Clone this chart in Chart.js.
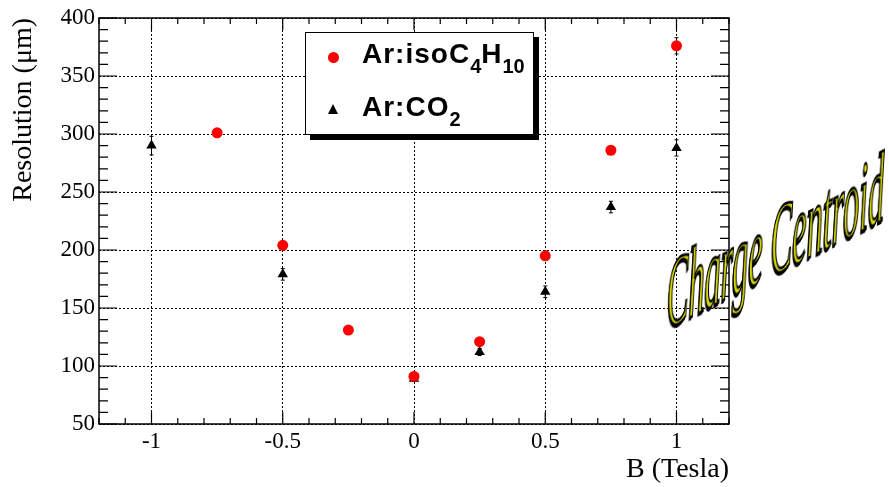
<!DOCTYPE html>
<html>
<head>
<meta charset="utf-8">
<script src="https://cdn.jsdelivr.net/npm/chart.js@4.4.1/dist/chart.umd.min.js"></script>
<style>
  html, body { margin: 0; padding: 0; background: #fff; }
  #wrap { position: relative; width: 889px; height: 487px; overflow: hidden; }
  #legend {
    position: absolute; left: 305px; top: 32px; width: 227px; height: 101px;
    border: 1px solid #000; background: #fff; box-shadow: 5px 5px 0 #000;
    font-family: "Liberation Sans", Arial, sans-serif; font-weight: bold; font-size: 28px;
  }
  #legend .row { position: absolute; left: 0; height: 34px; line-height: 34px; white-space: nowrap; }
  #legend .mark { position: absolute; left: 22px; }
  #legend .txt { position: absolute; left: 56px; letter-spacing: 1px; }
  #legend sub { font-size: 20px; vertical-align: -10px; line-height: 0; letter-spacing: 0; }
  .dot { width: 11px; height: 11px; border-radius: 50%; background: #f00; }
  .tri { width: 0; height: 0; border-left: 5px solid transparent; border-right: 5px solid transparent; border-bottom: 10px solid #000; }
  #stamp {
    position: absolute; left: 667px; top: 312px; white-space: nowrap;
    font-family: "Liberation Serif", "Times New Roman", serif; font-style: italic; font-size: 34px; line-height: 34px;
    color: #d8d800; -webkit-text-stroke: 1px #000; text-shadow: -1px 1px 0 #000;
    transform-origin: 0 100%; transform: skewY(-26.7deg) scale(0.95, 2.9);
  }
</style>
</head>
<body>
<div id="wrap">
  <canvas id="chart" width="889" height="487"></canvas>
  <div id="legend">
    <div class="row" style="top:4px"><div class="dot mark" style="top:15px"></div><span class="txt">Ar:isoC<sub>4</sub>H<sub>10</sub></span></div>
    <div class="row" style="top:57px"><div class="tri mark" style="top:14px"></div><span class="txt">Ar:CO<sub>2</sub></span></div>
  </div>
  <div id="stamp">Charge Centroid</div>
</div>
<script>
// --- dados ---
const isoField = [-0.75, -0.5, -0.25, 0, 0.25, 0.5, 0.75, 1];
const isoResolution = [301, 204, 131, 91, 121, 195, 286, 376];
const isoError = [3, 3, 2, 2, 2, 3, 3, 7];

const co2Field = [-1, -0.5, 0, 0.25, 0.5, 0.75, 1];
const co2Resolution = [290, 179, 89, 112, 164, 237, 288];
const co2Error = [8, 5, 2, 3, 5, 5, 7];

const xTicks = [-1, -0.5, 0, 0.5, 1];
const yTicks = [50, 100, 150, 200, 250, 300, 350, 400];

const serif = '"Liberation Serif", "Times New Roman", serif';

// pares {x, y} a partir das listas
function toPoints(xs, ys) {
    return xs.map((x, i) => ({ x: x, y: ys[i] }));
}

// barras de erro verticais (estilo ROOT)
const errorBars = {
    id: 'errorBars',
    beforeDatasetsDraw(chart) {
        const ctx = chart.ctx;
        const y = chart.scales.y;
        const sets = [isoError, co2Error];
        ctx.save();
        ctx.strokeStyle = '#000';
        ctx.lineWidth = 1;
        chart.data.datasets.forEach((ds, d) => {
            const meta = chart.getDatasetMeta(d);
            meta.data.forEach((pt, i) => {
                const v = ds.data[i].y;
                const top = y.getPixelForValue(v + sets[d][i]);
                const bot = y.getPixelForValue(v - sets[d][i]);
                ctx.beginPath();
                ctx.moveTo(pt.x, top); ctx.lineTo(pt.x, bot);
                ctx.moveTo(pt.x - 2, top); ctx.lineTo(pt.x + 2, top);
                ctx.moveTo(pt.x - 2, bot); ctx.lineTo(pt.x + 2, bot);
                ctx.stroke();
            });
        });
        ctx.restore();
    }
};

// moldura com marcas para dentro nos quatro lados
const frameTicks = {
    id: 'frameTicks',
    afterDraw(chart) {
        const ctx = chart.ctx;
        const a = chart.chartArea;
        const xs = chart.scales.x, ys = chart.scales.y;
        ctx.save();
        ctx.strokeStyle = '#000';
        ctx.lineWidth = 1.5;
        ctx.strokeRect(a.left, a.top, a.right - a.left, a.bottom - a.top);
        ctx.lineWidth = 1.2;
        ctx.beginPath();
        for (let k = -12; k <= 12; k++) {
            const px = xs.getPixelForValue(k / 10);
            const len = (k % 5 === 0) ? 12 : 6;
            ctx.moveTo(px, a.bottom); ctx.lineTo(px, a.bottom - len);
            ctx.moveTo(px, a.top); ctx.lineTo(px, a.top + len);
        }
        for (let v = 50; v <= 400; v += 10) {
            const py = ys.getPixelForValue(v);
            const len = (v % 50 === 0) ? 18 : 9;
            ctx.moveTo(a.left, py); ctx.lineTo(a.left + len, py);
            ctx.moveTo(a.right, py); ctx.lineTo(a.right - len, py);
        }
        ctx.stroke();
        ctx.restore();
    }
};

new Chart(document.getElementById('chart'), {
    type: 'scatter',
    data: {
        datasets: [
            {
                label: 'Ar:isoC4H10',
                data: toPoints(isoField, isoResolution),
                pointStyle: 'circle',
                pointRadius: 5.5,
                backgroundColor: '#ff0000',
                borderWidth: 0
            },
            {
                label: 'Ar:CO2',
                data: toPoints(co2Field, co2Resolution),
                pointStyle: 'triangle',
                pointRadius: 6,
                backgroundColor: '#000000',
                borderWidth: 0
            }
        ]
    },
    options: {
        responsive: false,
        animation: false,
        events: [],
        layout: { padding: { top: 18, right: 160, left: 0, bottom: 0 } },
        plugins: { legend: { display: false }, tooltip: { enabled: false } },
        scales: {
            x: {
                type: 'linear', min: -1.2, max: 1.2,
                afterBuildTicks: s => { s.ticks = xTicks.map(v => ({ value: v })); },
                afterFit: s => { s.height = 63; },
                border: { display: false, dash: [2, 2] },
                grid: { color: '#000', lineWidth: 1, drawTicks: false },
                ticks: { padding: 4, color: '#000', font: { family: serif, size: 23 }, callback: v => String(v) },
                title: { display: true, text: 'B (Tesla)', align: 'end', color: '#000',
                         font: { family: serif, size: 28 }, padding: { top: 0, bottom: 1 } }
            },
            y: {
                type: 'linear', min: 50, max: 400,
                afterBuildTicks: s => { s.ticks = yTicks.map(v => ({ value: v })); },
                afterFit: s => { s.width = 99; },
                border: { display: false, dash: [2, 2] },
                grid: { color: '#000', lineWidth: 1, drawTicks: false },
                ticks: { padding: 4, color: '#000', font: { family: serif, size: 23 } },
                title: { display: true, text: 'Resolution (μm)', align: 'end', color: '#000',
                         font: { family: serif, size: 28 }, padding: { top: 7, bottom: 0 } }
            }
        }
    },
    plugins: [errorBars, frameTicks]
});
</script>
</body>
</html>
